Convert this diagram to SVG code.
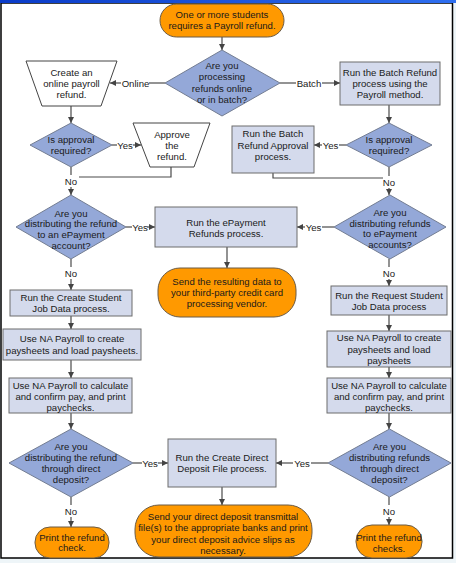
<svg xmlns="http://www.w3.org/2000/svg" width="456" height="563" viewBox="0 0 456 563">
<defs>
<marker id="ah" markerUnits="userSpaceOnUse" markerWidth="6" markerHeight="6" refX="6" refY="3" orient="auto">
<path d="M0,0 L6,3 L0,6 z" fill="#444"/>
</marker>
<linearGradient id="bar" x1="0" y1="0" x2="1" y2="0">
<stop offset="0" stop-color="#0a3bc8"/>
<stop offset="1" stop-color="#2f6ff0"/>
</linearGradient>
</defs>
<style>
text{font-family:"Liberation Sans",Arial,sans-serif;font-size:9.6px;fill:#1a1a1a;text-anchor:middle}
.pill{fill:#ff9900;stroke:#6b5b45;stroke-width:1}
.dia{fill:#94a8d8;stroke:#737d92;stroke-width:1}
.box{fill:#d4daec;stroke:#6c6c6c;stroke-width:1}
.trap{fill:#ffffff;stroke:#444;stroke-width:1}
.ln{fill:none;stroke:#4a4a4a;stroke-width:1.2}
.ar{fill:none;stroke:#4a4a4a;stroke-width:1.2;marker-end:url(#ah)}
</style>
<rect x="0" y="0" width="456" height="563" fill="#eef5f8"/>
<rect x="1" y="3" width="451.5" height="555" fill="#ffffff" stroke="#000" stroke-width="1.5"/>
<rect x="0" y="0" width="456" height="3" fill="url(#bar)"/>

<g id="connectors">
<path class="ar" d="M222,37 V50"/>
<path class="ln" d="M165,83 H149"/>
<path class="ar" d="M121,83 H110"/>
<path class="ln" d="M280,83 H296"/>
<path class="ar" d="M322,83 H340"/>
<path class="ar" d="M71,106 V123"/>
<path class="ln" d="M112,145 H117"/>
<path class="ar" d="M133,145 H141"/>
<path class="ln" d="M71,167 V175"/>
<path class="ar" d="M71,187 V195"/>
<path class="ln" d="M171,167 V177 H79"/>
<path class="ln" d="M126,227 H132"/>
<path class="ar" d="M147,227 H155"/>
<path class="ln" d="M334,227 H322"/>
<path class="ar" d="M305,227 H297"/>
<path class="ar" d="M227,247 V268"/>
<path class="ar" d="M389,105 V123"/>
<path class="ln" d="M346,145 H339"/>
<path class="ar" d="M322,145 H314"/>
<path class="ln" d="M273,173 V178 H383"/>
<path class="ln" d="M389,167 V176"/>
<path class="ar" d="M389,188 V195"/>
<path class="ln" d="M71,259 V267"/>
<path class="ar" d="M71,279 V290"/>
<path class="ar" d="M71,316 V329"/>
<path class="ar" d="M71,360 V378"/>
<path class="ar" d="M71,413 V429"/>
<path class="ln" d="M133,463 H142"/>
<path class="ar" d="M158,463 H168"/>
<path class="ln" d="M71,497 V505"/>
<path class="ar" d="M71,517 V527"/>
<path class="ar" d="M222,487 V505"/>
<path class="ln" d="M328,463 H311"/>
<path class="ar" d="M293,463 H276"/>
<path class="ln" d="M389,259 V267"/>
<path class="ar" d="M389,279 V286"/>
<path class="ar" d="M389,315 V331"/>
<path class="ar" d="M389,367 V378"/>
<path class="ar" d="M389,413 V429"/>
<path class="ln" d="M389,497 V505"/>
<path class="ar" d="M389,517 V525"/>
<text x="135.5" y="86.5">Online</text>
<text x="309" y="86.5">Batch</text>
<text x="125" y="148.5">Yes</text>
<text x="330.5" y="148.5">Yes</text>
<text x="71" y="184.5">No</text>
<text x="389" y="185.5">No</text>
<text x="140" y="230.5">Yes</text>
<text x="313.5" y="230.5">Yes</text>
<text x="71" y="276.5">No</text>
<text x="389" y="276.5">No</text>
<text x="150" y="466.5">Yes</text>
<text x="302" y="466.5">Yes</text>
<text x="71" y="514.5">No</text>
<text x="389" y="514.5">No</text>
</g>

<g id="start">
<rect class="pill" x="160" y="4" width="124" height="33" rx="16.5"/>
<text x="222" y="17.5">One or more students</text>
<text x="222" y="28.5">requires a Payroll refund.</text>
</g>
<g id="q-online-batch">
<polygon class="dia" points="222,50 280,83 222,116 165,83"/>
<text x="222" y="68.5">Are you</text>
<text x="222" y="80">processing</text>
<text x="222" y="91.5">refunds online</text>
<text x="222" y="103">or in batch?</text>
</g>
<g id="create-online">
<polygon class="trap" points="26,61 117,61 101,106 42,106"/>
<text x="71.5" y="75.5">Create an</text>
<text x="71.5" y="86.5">online payroll</text>
<text x="71.5" y="97.5">refund.</text>
</g>
<g id="batch-refund">
<rect class="box" x="340" y="62" width="100" height="43"/>
<text x="390" y="75.5">Run the Batch Refund</text>
<text x="390" y="86.5">process using the</text>
<text x="390" y="97.5">Payroll method.</text>
</g>
<g id="q-approval-left">
<polygon class="dia" points="71,123 112,145 71,167 30,145"/>
<text x="71" y="142.5">Is approval</text>
<text x="71" y="153.5">required?</text>
</g>
<g id="approve-refund">
<polygon class="trap" points="133,123 210,123 194,167 150,167"/>
<text x="172" y="137.5">Approve</text>
<text x="172" y="148.5">the</text>
<text x="172" y="159.5">refund.</text>
</g>
<g id="batch-approval">
<rect class="box" x="232" y="126" width="82" height="47"/>
<text x="273" y="137">Run the Batch</text>
<text x="273" y="148.5">Refund Approval</text>
<text x="273" y="160">process.</text>
</g>
<g id="q-approval-right">
<polygon class="dia" points="389,123 432,145 389,167 346,145"/>
<text x="389" y="142.5">Is approval</text>
<text x="389" y="153.5">required?</text>
</g>
<g id="q-epay-left">
<polygon class="dia" points="71,195 126,227 71,259 16,227"/>
<text x="71" y="216.5">Are you</text>
<text x="71" y="227.2">distributing the refund</text>
<text x="71" y="237.9">to an ePayment</text>
<text x="71" y="248.6">account?</text>
</g>
<g id="epayment">
<rect class="box" x="155" y="207" width="142" height="40"/>
<text x="226" y="225.5">Run the ePayment</text>
<text x="226" y="236.5">Refunds process.</text>
</g>
<g id="q-epay-right">
<polygon class="dia" points="390,195 446,227 390,259 334,227"/>
<text x="390" y="216">Are you</text>
<text x="390" y="226.7">distributing refunds</text>
<text x="390" y="237.4">to ePayment</text>
<text x="390" y="248.1">accounts?</text>
</g>
<g id="send-vendor">
<rect class="pill" x="158" y="268" width="138" height="49" rx="22"/>
<text x="227" y="284.5">Send the resulting data to</text>
<text x="227" y="295.5">your third-party credit card</text>
<text x="227" y="306.5">processing vendor.</text>
</g>
<g id="create-student">
<rect class="box" x="10" y="290" width="122" height="26"/>
<text x="71" y="300.5">Run the Create Student</text>
<text x="71" y="311.5">Job Data process.</text>
</g>
<g id="request-student">
<rect class="box" x="331" y="286" width="116" height="29"/>
<text x="389" y="298.5">Run the Request Student</text>
<text x="389" y="309.5">Job Data process</text>
</g>
<g id="paysheets-left">
<rect class="box" x="3" y="329" width="138" height="31"/>
<text x="72" y="342">Use NA Payroll to create</text>
<text x="72" y="354">paysheets and load paysheets.</text>
</g>
<g id="paysheets-right">
<rect class="box" x="327" y="331" width="124" height="36"/>
<text x="389" y="340.5">Use NA Payroll to create</text>
<text x="389" y="352.5">paysheets and load</text>
<text x="389" y="364">paysheets</text>
</g>
<g id="calc-left">
<rect class="box" x="9" y="378" width="123" height="35"/>
<text x="70.5" y="388.5">Use NA Payroll to calculate</text>
<text x="70.5" y="399.5">and confirm pay, and print</text>
<text x="70.5" y="410.5">paychecks.</text>
</g>
<g id="calc-right">
<rect class="box" x="327" y="378" width="124" height="35"/>
<text x="389" y="388.5">Use NA Payroll to calculate</text>
<text x="389" y="399.5">and confirm pay, and print</text>
<text x="389" y="410.5">paychecks.</text>
</g>
<g id="q-dd-left">
<polygon class="dia" points="71,429 133,463 71,497 9,463"/>
<text x="71" y="449.5">Are you</text>
<text x="71" y="460.8">distributing the refund</text>
<text x="71" y="472.1">through direct</text>
<text x="71" y="483.4">deposit?</text>
</g>
<g id="dd-file">
<rect class="box" x="168" y="439" width="108" height="48"/>
<text x="222" y="460.5">Run the Create Direct</text>
<text x="222" y="472">Deposit File process.</text>
</g>
<g id="q-dd-right">
<polygon class="dia" points="389.5,429 451,463 389.5,497 328,463"/>
<text x="389.5" y="449.5">Are you</text>
<text x="389.5" y="460.8">distributing refunds</text>
<text x="389.5" y="472.1">through direct</text>
<text x="389.5" y="483.4">deposit?</text>
</g>
<g id="print-check">
<rect class="pill" x="35" y="527" width="74" height="31" rx="15"/>
<text x="72" y="540.5">Print the refund</text>
<text x="72" y="551">check.</text>
</g>
<g id="send-dd">
<rect class="pill" x="135" y="505" width="177" height="52" rx="24"/>
<text x="223" y="519.5">Send your direct deposit transmittal</text>
<text x="223" y="531">file(s) to the appropriate banks and print</text>
<text x="223" y="542.5">your direct deposit advice slips as</text>
<text x="223" y="553.5">necessary.</text>
</g>
<g id="print-checks">
<rect class="pill" x="356" y="525" width="66" height="33" rx="16"/>
<text x="389" y="540.5">Print the refund</text>
<text x="389" y="551.5">checks.</text>
</g>
</svg>
